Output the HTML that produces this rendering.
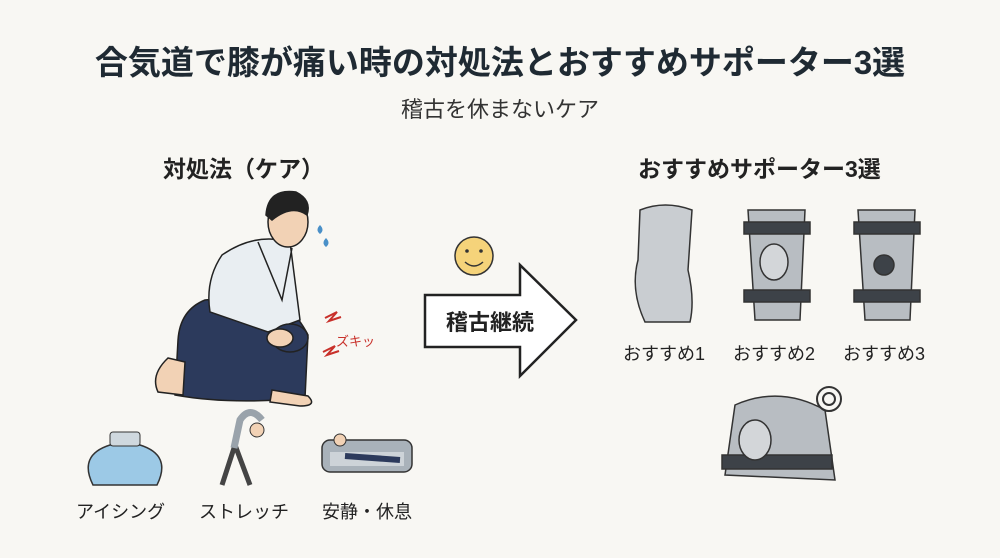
<!DOCTYPE html>
<html><head><meta charset="utf-8"><style>
html,body{margin:0;padding:0;}
body{width:1000px;height:558px;background:#f8f7f3;position:relative;overflow:hidden;font-family:"Liberation Sans","Noto Sans CJK JP",sans-serif;color:#222;}
.t{position:absolute;white-space:nowrap;}
</style></head><body>
<div class="t" style="left:0;width:1000px;text-align:center;top:36px;font-size:33px;font-weight:bold;color:#1f2a33">合気道で膝が痛い時の対処法とおすすめサポーター3選</div>
<div class="t" style="left:0;width:1000px;text-align:center;top:92px;font-size:22px;color:#333">稽古を休まないケア</div>
<div class="t" style="left:163px;top:150px;font-size:23px;font-weight:bold">対処法（ケア）</div>
<div class="t" style="left:638px;top:150px;font-size:23px;font-weight:bold">おすすめサポーター3選</div>
<svg width="1000" height="558" style="position:absolute;left:0;top:0">
<g stroke="#222" stroke-width="1.5">
<path d="M205 300 Q180 310 178 340 L175 395 Q230 405 305 398 L308 335 Q290 300 260 295 Z" fill="#2c3a5c"/>
<path d="M168 358 L185 362 L183 395 L158 392 Q150 375 168 358Z" fill="#f2d2b5"/>
<path d="M272 390 L308 396 Q318 406 300 406 L270 402Z" fill="#f2d2b5"/>
<path d="M222 255 Q255 232 290 242 L300 320 L268 332 L210 312 Q205 280 222 255Z" fill="#e9eef2"/>
<path d="M258 242 L282 300 L292 248" fill="none"/>
<ellipse cx="290" cy="338" rx="18" ry="14" fill="#2c3a5c"/>
<ellipse cx="280" cy="338" rx="13" ry="9" fill="#f2d2b5"/>
<ellipse cx="288" cy="222" rx="20" ry="25" fill="#f2d2b5"/>
<path d="M266 215 Q268 188 296 192 Q312 200 307 215 Q292 204 272 220Z" fill="#222"/>
</g>
<path d="M320 225 q5 5 0 9 q-5 -4 0 -9z M326 238 q5 5 0 9 q-5-4 0-9z" fill="#4a90c8"/>
<path d="M325 318 l12 -6 l-8 9 l12 -4" stroke="#c8302a" stroke-width="2" fill="none"/>
<path d="M323 352 l12 -6 l-8 9 l12 -4" stroke="#c8302a" stroke-width="2" fill="none"/>
<text x="336" y="346" font-size="13" fill="#c8302a" font-family="Liberation Sans,Noto Sans CJK JP,sans-serif">ズキッ</text>
<path d="M93 485 Q78 455 110 445 L140 445 Q172 455 157 485 Z" fill="#9cc9e6" stroke="#333" stroke-width="1.5"/>
<rect x="110" y="432" width="30" height="14" rx="3" fill="#cfd8de" stroke="#333"/>
<path d="M222 485 L235 445 L250 485" fill="none" stroke="#444" stroke-width="5"/>
<path d="M234 448 L240 420 Q250 405 262 420" fill="none" stroke="#9aa3ab" stroke-width="7"/>
<circle cx="257" cy="430" r="7" fill="#f2d2b5" stroke="#333"/>
<rect x="322" y="440" width="90" height="32" rx="8" fill="#a9b2ba" stroke="#333" stroke-width="1.5"/>
<rect x="330" y="452" width="74" height="14" fill="#cdd3d8"/>
<path d="M345 456 L400 460" stroke="#2c3a5c" stroke-width="6"/>
<circle cx="340" cy="440" r="6" fill="#f2d2b5" stroke="#333"/>
<circle cx="474" cy="256" r="19" fill="#f5d37a" stroke="#333" stroke-width="1.5"/>
<circle cx="467" cy="251" r="1.8" fill="#333"/><circle cx="481" cy="251" r="1.8" fill="#333"/>
<path d="M465 262 Q474 270 483 262" stroke="#333" stroke-width="1.5" fill="none"/>
<path d="M425 295 L520 295 L520 265 L576 320 L520 376 L520 347 L425 347 Z" fill="#fff" stroke="#222" stroke-width="2.5"/>
<text x="490" y="330" font-size="22" font-weight="bold" text-anchor="middle" fill="#222" font-family="Liberation Sans,Noto Sans CJK JP,sans-serif">稽古継続</text>
<path d="M640 210 Q665 200 692 210 L688 270 Q695 300 690 322 L645 322 Q630 290 638 260 Z" fill="#c9cdd1" stroke="#333" stroke-width="1.5"/>
<g stroke="#333" stroke-width="1.5">
<path d="M748 210 L805 210 L800 320 L755 320 Z" fill="#b8bdc2"/>
<rect x="744" y="222" width="66" height="12" fill="#3d4248"/>
<rect x="744" y="290" width="66" height="12" fill="#3d4248"/>
<ellipse cx="774" cy="262" rx="14" ry="18" fill="#d3d6d9"/>
<path d="M858 210 L915 210 L910 320 L865 320 Z" fill="#b8bdc2"/>
<rect x="854" y="222" width="66" height="12" fill="#3d4248"/>
<rect x="854" y="290" width="66" height="12" fill="#3d4248"/>
<circle cx="884" cy="265" r="10" fill="#3d4248"/>
<path d="M735 405 Q780 385 825 410 L835 480 L725 475 Z" fill="#b8bdc2"/>
<rect x="722" y="455" width="110" height="14" fill="#3d4248"/>
<ellipse cx="755" cy="440" rx="16" ry="20" fill="#d3d6d9"/>
</g>
<circle cx="829" cy="399" r="12" fill="none" stroke="#333" stroke-width="2"/>
<circle cx="829" cy="399" r="6" fill="none" stroke="#333" stroke-width="2"/>
</svg>
<div class="t" style="left:623px;top:340px;font-size:18px">おすすめ1</div>
<div class="t" style="left:733px;top:340px;font-size:18px">おすすめ2</div>
<div class="t" style="left:843px;top:340px;font-size:18px">おすすめ3</div>
<div class="t" style="left:76px;top:498px;font-size:18px">アイシング</div>
<div class="t" style="left:199px;top:498px;font-size:18px">ストレッチ</div>
<div class="t" style="left:322px;top:498px;font-size:18px">安静・休息</div>
</body></html>
